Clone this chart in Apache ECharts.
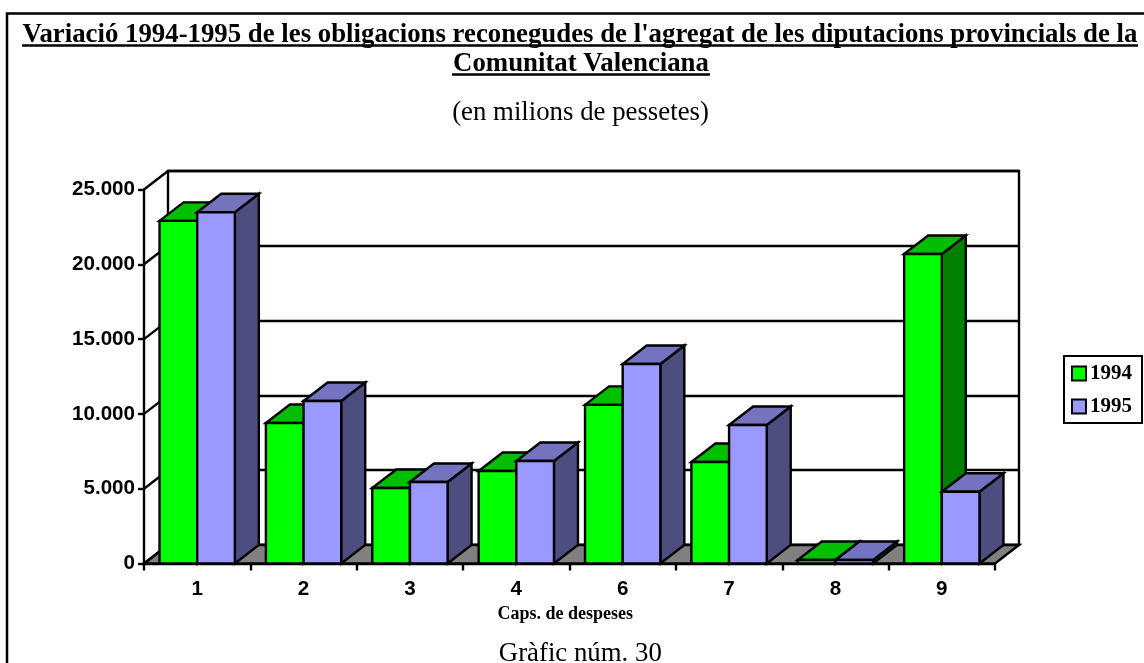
<!DOCTYPE html>
<html><head><meta charset="utf-8">
<style>html,body{margin:0;padding:0;background:#fff}#c{width:1144px;height:663px}</style>
<script src="https://cdn.jsdelivr.net/npm/echarts@6/dist/echarts.min.js"></script>
</head><body><div id="c"></div>
<script>
const categories = ['1','2','3','4','6','7','8','9'];
const values1994 = [22900,9390,5050,6180,10600,6780,230,20690];
const values1995 = [23480,10860,5450,6850,13340,9260,230,4800];
const yTicks = [0,5000,10000,15000,20000,25000];
const DX = 24, DY = -18.5, BAR = 0.354, LW = 2.4;

function barItem(side, colors){
  return function(params, api){
    const p = api.coord([api.value(0), api.value(1)]);
    const base = api.coord([api.value(0), 0]);
    const w = api.size([1,0])[0]*BAR;
    const x0 = side<0 ? p[0]-w : p[0], x1 = x0+w, t = p[1], b = base[1];
    const st = c => ({fill:c, stroke:'#000', lineWidth:LW, lineJoin:'miter'});
    return {type:'group', children:[
      {type:'polygon', shape:{points:[[x1,b],[x1+DX,b+DY],[x1+DX,t+DY],[x1,t]]}, style:st(colors[2])},
      {type:'polygon', shape:{points:[[x0,t],[x0+DX,t+DY],[x1+DX,t+DY],[x1,t]]}, style:st(colors[1])},
      {type:'polygon', shape:{points:[[x0,b],[x1,b],[x1,t],[x0,t]]}, style:st(colors[0])}
    ]};
  };
}
function bandEdges(api){
  const band = api.size([1,0])[0];
  const a = api.coord([0,0])[0]-band/2;
  const z = api.coord([categories.length-1,0])[0]+band/2;
  return [a,z];
}
const chart = echarts.init(document.getElementById('c'),null,{renderer:'canvas'});
const serif = '"Liberation Serif","Times New Roman",serif';
const sans = '"Liberation Sans",Arial,sans-serif';
chart.setOption({
  animation:false,
  backgroundColor:'#fff',
  title:[
    {text:"Variació 1994-1995 de les obligacions reconegudes de l'agregat de les diputacions provincials de la",left:580,top:21.5,padding:0,textAlign:'center',textStyle:{fontFamily:serif,fontWeight:'bold',fontSize:26.8,color:'#000'}},
    {text:'Comunitat Valenciana',left:581,top:50.5,padding:0,textAlign:'center',textStyle:{fontFamily:serif,fontWeight:'bold',fontSize:26.8,color:'#000'}},
    {text:'(en milions de pessetes)',left:580.5,top:99.5,padding:0,textAlign:'center',textStyle:{fontFamily:serif,fontWeight:'normal',fontSize:26.8,color:'#000'}},
    {text:'Gràfic núm. 30',left:580.3,top:640.5,padding:0,textAlign:'center',textStyle:{fontFamily:serif,fontWeight:'normal',fontSize:26.8,color:'#000'}},
    {text:'Caps. de despeses',left:565.3,top:605,padding:0,textAlign:'center',textStyle:{fontFamily:serif,fontWeight:'bold',fontSize:18,color:'#000'}}
  ],
  graphic:[
    {type:'polyline',shape:{points:[[7,663],[7,13.5],[1144,13.5]]},style:{stroke:'#000',lineWidth:2.5,fill:null},silent:true},
    {type:'line',shape:{x1:22,y1:45.5,x2:1138,y2:45.5},style:{stroke:'#000',lineWidth:2.5},silent:true},
    {type:'line',shape:{x1:452,y1:74.5,x2:710,y2:74.5},style:{stroke:'#000',lineWidth:2.5},silent:true}
  ],
  legend:{
    orient:'vertical',left:1064,top:356,padding:[7,10,6,7],itemGap:12,itemWidth:14,itemHeight:14,
    backgroundColor:'#fff',borderColor:'#000',borderWidth:2,
    icon:'rect',data:['1994','1995'],
    textStyle:{fontFamily:serif,fontWeight:'bold',fontSize:21,color:'#000',padding:[0,0,0,-1]},
    selectedMode:false
  },
  grid:[
    {left:144,top:189.5,width:851,height:374,show:false},
    {left:168,top:171,width:851,height:374,show:true,borderColor:'#000',borderWidth:LW,backgroundColor:'#fff'}
  ],
  xAxis:[
    {type:'category',gridIndex:0,data:categories,
     axisLine:{show:true,lineStyle:{color:'#000',width:LW}},
     axisTick:{show:true,length:7,lineStyle:{color:'#000',width:LW}},
     axisLabel:{fontFamily:sans,fontWeight:'bold',fontSize:20.6,color:'#000',margin:15}},
    {type:'category',gridIndex:1,data:categories,show:false}
  ],
  yAxis:[
    {type:'value',gridIndex:0,min:0,max:25000,interval:5000,
     axisLine:{show:true,lineStyle:{color:'#000',width:LW}},
     axisTick:{show:true,length:6,lineStyle:{color:'#000',width:LW}},
     splitLine:{show:false},
     axisLabel:{fontFamily:sans,fontWeight:'bold',fontSize:20.6,color:'#000',margin:9,padding:[3,0,0,0],
       formatter:v=>String(v).replace(/\B(?=(\d{3})+$)/g,'.')}},
    {type:'value',gridIndex:1,min:0,max:25000,interval:5000,
     axisLine:{show:false},axisTick:{show:false},axisLabel:{show:false},
     splitLine:{show:true,lineStyle:{color:'#000',width:LW}}}
  ],
  series:[
    {type:'custom',name:'floor',xAxisIndex:0,yAxisIndex:0,data:[[0,0]],silent:true,z:1,clip:false,
     renderItem:(params,api)=>{
       const e=bandEdges(api), b=api.coord([0,0])[1];
       return {type:'polygon',shape:{points:[[e[0],b],[e[1],b],[e[1]+DX,b+DY],[e[0]+DX,b+DY]]},style:{fill:'#808080',stroke:'#000',lineWidth:LW}};
     }},
    {type:'custom',name:'wall',xAxisIndex:0,yAxisIndex:0,data:yTicks.map(v=>[0,v]),silent:true,z:1,clip:false,
     renderItem:(params,api)=>{
       const e=bandEdges(api), y=api.coord([0,api.value(1)])[1];
       return {type:'line',shape:{x1:e[0],y1:y,x2:e[0]+DX,y2:y+DY},style:{stroke:'#000',lineWidth:LW}};
     }},
    {type:'custom',name:'1994',xAxisIndex:0,yAxisIndex:0,z:3,clip:false,
     itemStyle:{color:'#00FF00',borderColor:'#000',borderWidth:2.5},
     data:values1994.map((v,i)=>[i,v]),encode:{x:0,y:1},
     renderItem:barItem(-1,['#00FF00','#00BF00','#007F00'])},
    {type:'custom',name:'1995',xAxisIndex:0,yAxisIndex:0,z:3,clip:false,
     itemStyle:{color:'#9999FF',borderColor:'#000',borderWidth:2.5},
     data:values1995.map((v,i)=>[i,v]),encode:{x:0,y:1},
     renderItem:barItem(1,['#9999FF','#7373BF','#4D4D80'])}
  ]
});
</script></body></html>
